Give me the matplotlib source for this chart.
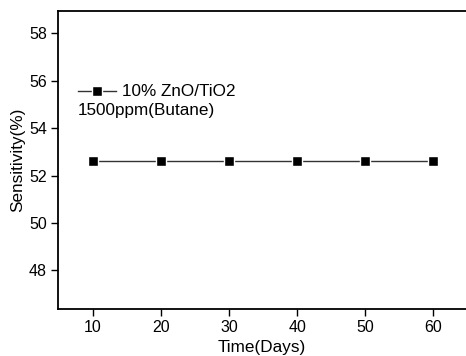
import matplotlib

matplotlib.use("Agg")
import matplotlib.pyplot as plt

days = [10, 20, 30, 40, 50, 60]
sensitivity = [52.63, 52.63, 52.63, 52.63, 52.63, 52.63]
yticks = [48, 50, 52, 54, 56, 58]

plt.rcParams["font.family"] = ["Liberation Sans", "DejaVu Sans"]

W, H = 466, 356
fig = plt.figure(figsize=(W / 100, H / 100), dpi=100)
ax = fig.add_axes([58 / W, 1 - 308.7 / H, 1 - 58 / W, (308.7 - 11.3) / H])

ax.plot(days, sensitivity, color="#333333", lw=1.0, marker="s", ms=7.5,
        mfc="black", mec="white", mew=1.0, label="10% ZnO/TiO2")

ax.set_xlim(4.9, 64.8)
ax.set_ylim(46.38, 58.93)
ax.set_xticks(days)
ax.set_yticks(yticks)
ax.tick_params(direction="out", length=5, width=1, labelsize=11.5, pad=3,
               top=False, right=False)
for s in ["left", "bottom", "top"]:
    ax.spines[s].set_linewidth(1.3)
ax.spines["right"].set_visible(False)

ax.set_xlabel("Time(Days)", fontsize=12.3, labelpad=4)
ax.set_ylabel("Sensitivity(%)", fontsize=12.3, labelpad=3)

ax.legend(loc="center left", bbox_to_anchor=(78 / W, 1 - 92 / H),
          bbox_transform=fig.transFigure, frameon=False, fontsize=12.3,
          handlelength=2.2, handletextpad=0.4, borderaxespad=0, borderpad=0)
fig.text(78 / W, 1 - 111 / H, "1500ppm(Butane)", fontsize=12.3, va="center",
         ha="left")

fig.savefig("out.png", dpi=100)
